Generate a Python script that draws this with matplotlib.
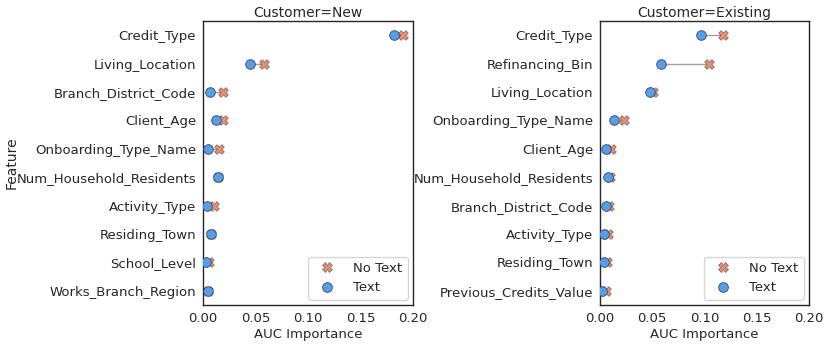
import numpy as np
import matplotlib
matplotlib.use("Agg")
from matplotlib import pyplot as plt
from matplotlib.lines import Line2D

# feature order (top to bottom) and AUC importance values
new_features = ["Credit_Type", "Living_Location", "Branch_District_Code", "Client_Age",
                "Onboarding_Type_Name", "Num_Household_Residents", "Activity_Type",
                "Residing_Town", "School_Level", "Works_Branch_Region"]
new_no_text = [0.190, 0.058, 0.019, 0.019, 0.015, 0.014, 0.0105, 0.0075, 0.0055, 0.0045]
new_text = [0.182, 0.045, 0.007, 0.012, 0.005, 0.014, 0.004, 0.0073, 0.003, 0.0045]

existing_features = ["Credit_Type", "Refinancing_Bin", "Living_Location", "Onboarding_Type_Name",
                     "Client_Age", "Num_Household_Residents", "Branch_District_Code",
                     "Activity_Type", "Residing_Town", "Previous_Credits_Value"]
existing_no_text = [0.118, 0.104, 0.051, 0.023, 0.011, 0.010, 0.009, 0.008, 0.007, 0.0055]
existing_text = [0.097, 0.058, 0.048, 0.013, 0.0055, 0.008, 0.0055, 0.004, 0.004, 0.002]

panels = [("Customer=New", new_features, new_no_text, new_text),
          ("Customer=Existing", existing_features, existing_no_text, existing_text)]

blue = "#529ff0"
orange = "#f08c6c"
dark = "#262626"

plt.rcParams["font.family"] = "DejaVu Sans"
plt.rcParams["font.size"] = 9.5
plt.rcParams["text.color"] = dark
plt.rcParams["axes.labelcolor"] = dark
plt.rcParams["xtick.color"] = dark
plt.rcParams["ytick.color"] = dark

fig = plt.figure(figsize=(8.3, 3.48), dpi=100)
boxes = [[203 / 830, 43 / 348, 210 / 830, 284 / 348],
         [600 / 830, 43 / 348, 209 / 830, 284 / 348]]

for i, (title, feats, no_text, text) in enumerate(panels):
    ax = fig.add_axes(boxes[i])
    y = np.arange(len(feats))
    ax.hlines(y, text, no_text, color="#a0a0a0", lw=1, zorder=1)
    ax.scatter(no_text, y, marker="X", s=48, color=orange, edgecolor="#666666",
               linewidth=0.5, zorder=2)
    ax.scatter(text, y, marker="o", s=48, color=blue, edgecolor="#444444",
               linewidth=0.6, zorder=3)
    ax.set_yticks(y)
    ax.set_yticklabels(feats)
    ax.set_ylim(len(feats) - 0.5, -0.5)
    ax.set_xlim(0, 0.2)
    ax.set_xticks([0, 0.05, 0.10, 0.15, 0.20])
    ax.set_xticklabels(["0.00", "0.05", "0.10", "0.15", "0.20"])
    ax.tick_params(length=0, pad=5)
    for sp in ax.spines.values():
        sp.set_color(dark)
        sp.set_linewidth(1)
    ax.set_title(title, fontsize=10, pad=3)
    ax.set_xlabel("AUC Importance", labelpad=2)
    if i == 0:
        ax.set_ylabel("Feature", fontsize=10)
        ax.yaxis.set_label_coords(-184 / 210, 0.5)
    handles = [Line2D([], [], marker="X", ls="", markersize=7, color=orange,
                      markeredgecolor="#666666", markeredgewidth=0.5),
               Line2D([], [], marker="o", ls="", markersize=7, color=blue,
                      markeredgecolor="#444444", markeredgewidth=0.6)]
    ax.legend(handles, ["No Text", "Text"], loc="lower right", fontsize=9.5,
              frameon=True, handletextpad=1.0, borderaxespad=0.4)

fig.savefig("out.png", dpi=100)
